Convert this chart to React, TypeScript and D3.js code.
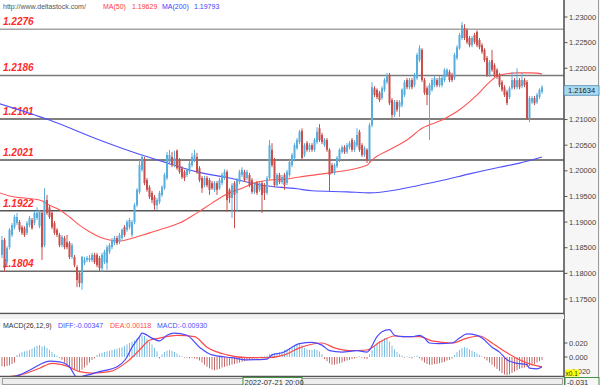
import React from "react";
import * as d3 from "d3";

const W = 600;
const H = 385;

// [open, high, low, close]
const ohlc: [number, number, number, number][] = [
  [1.1836,1.1873,1.1830,1.1865],[1.1865,1.1869,1.1803,1.1810],[1.1822,1.1853,1.1816,1.1849],[1.1851,1.1888,1.1847,1.1885],
  [1.1875,1.1898,1.1871,1.1894],[1.1890,1.1914,1.1886,1.1910],[1.1898,1.1918,1.1894,1.1910],[1.1900,1.1904,1.1881,1.1885],
  [1.1890,1.1894,1.1875,1.1879],[1.1888,1.1892,1.1871,1.1875],[1.1879,1.1902,1.1875,1.1898],[1.1894,1.1912,1.1890,1.1908],
  [1.1904,1.1908,1.1885,1.1888],[1.1898,1.1922,1.1894,1.1918],[1.1908,1.1929,1.1904,1.1918],[1.1892,1.1924,1.1888,1.1920],
  [1.1918,1.1922,1.1826,1.1851],[1.1855,1.1966,1.1851,1.1943],[1.1943,1.1953,1.1914,1.1918],[1.1929,1.1933,1.1906,1.1910],
  [1.1918,1.1922,1.1886,1.1890],[1.1898,1.1902,1.1875,1.1879],[1.1885,1.1888,1.1871,1.1875],[1.1875,1.1879,1.1851,1.1855],
  [1.1855,1.1875,1.1851,1.1871],[1.1869,1.1873,1.1847,1.1851],[1.1861,1.1875,1.1847,1.1851],[1.1859,1.1863,1.1828,1.1832],
  [1.1832,1.1859,1.1828,1.1855],[1.1832,1.1836,1.1812,1.1816],[1.1812,1.1816,1.1773,1.1787],[1.1801,1.1805,1.1773,1.1781],
  [1.1781,1.1834,1.1768,1.1832],[1.1820,1.1832,1.1816,1.1826],[1.1826,1.1834,1.1822,1.1830],[1.1826,1.1836,1.1822,1.1830],
  [1.1826,1.1840,1.1822,1.1836],[1.1836,1.1840,1.1818,1.1822],[1.1836,1.1840,1.1812,1.1816],[1.1830,1.1834,1.1803,1.1810],
  [1.1810,1.1840,1.1803,1.1836],[1.1822,1.1846,1.1818,1.1842],[1.1820,1.1855,1.1807,1.1851],[1.1842,1.1859,1.1838,1.1855],
  [1.1851,1.1869,1.1847,1.1865],[1.1859,1.1873,1.1855,1.1869],[1.1869,1.1873,1.1855,1.1859],[1.1861,1.1879,1.1857,1.1875],
  [1.1869,1.1888,1.1865,1.1885],[1.1890,1.1894,1.1871,1.1875],[1.1885,1.1904,1.1881,1.1900],[1.1890,1.1908,1.1886,1.1904],
  [1.1875,1.1904,1.1871,1.1900],[1.1900,1.1937,1.1896,1.1933],[1.1933,1.1966,1.1929,1.1963],[1.1959,1.2021,1.1955,1.2011],
  [1.2002,1.2033,1.1998,1.2027],[1.2021,1.2027,1.1972,1.1976],[1.1982,1.1986,1.1959,1.1963],[1.1968,1.1972,1.1945,1.1949],
  [1.1957,1.1961,1.1937,1.1943],[1.1949,1.1953,1.1924,1.1933],[1.1933,1.1947,1.1924,1.1943],[1.1939,1.1961,1.1935,1.1957],
  [1.1953,1.1972,1.1949,1.1968],[1.1966,1.1996,1.1963,1.1992],[1.1986,1.2037,1.1982,1.2031],[1.2017,1.2041,1.2013,1.2031],
  [1.2027,1.2037,1.2007,1.2011],[1.2011,1.2039,1.2007,1.2025],[1.2039,1.2042,1.2002,1.2005],[1.2021,1.2025,1.1994,1.1998],
  [1.2005,1.2009,1.1984,1.1988],[1.1998,1.2002,1.1980,1.1986],[1.1992,1.2005,1.1988,1.2002],[1.1998,1.2019,1.1994,1.2015],
  [1.2011,1.2035,1.2007,1.2027],[1.2021,1.2041,1.2017,1.2031],[1.2027,1.2035,1.1994,1.1998],[1.2005,1.2009,1.1978,1.1982],
  [1.1986,1.1990,1.1957,1.1966],[1.1972,1.1990,1.1968,1.1986],[1.1986,1.1990,1.1968,1.1972],[1.1982,1.1986,1.1953,1.1963],
  [1.1976,1.1980,1.1963,1.1966],[1.1963,1.1980,1.1959,1.1976],[1.1976,1.1980,1.1953,1.1963],[1.1966,1.1986,1.1963,1.1982],
  [1.1976,1.1996,1.1972,1.1992],[1.1986,1.2003,1.1982,1.1998],[1.1998,1.2002,1.1920,1.1943],[1.1963,1.1966,1.1937,1.1947],
  [1.1947,1.1976,1.1908,1.1972],[1.1976,1.1980,1.1888,1.1953],[1.1957,1.1986,1.1920,1.1982],[1.1978,1.2002,1.1974,1.1998],
  [1.1992,1.2007,1.1988,1.2002],[1.1998,1.2002,1.1978,1.1982],[1.1986,1.2002,1.1982,1.1998],[1.1992,1.1996,1.1968,1.1972],
  [1.1982,1.1986,1.1955,1.1959],[1.1959,1.1976,1.1955,1.1972],[1.1976,1.1980,1.1953,1.1957],[1.1963,1.1980,1.1959,1.1976],
  [1.1976,1.1980,1.1918,1.1953],[1.1972,1.1976,1.1943,1.1957],[1.1957,1.1990,1.1953,1.1986],[1.1986,1.2060,1.1982,1.2050],
  [1.2041,1.2054,1.2007,1.2011],[1.2021,1.2025,1.1968,1.1972],[1.1972,1.1996,1.1968,1.1992],[1.1992,1.1996,1.1974,1.1978],
  [1.1978,1.1992,1.1974,1.1988],[1.1992,1.1996,1.1963,1.1972],[1.1976,1.2002,1.1972,1.1998],[1.1992,1.2021,1.1988,1.2017],
  [1.2011,1.2035,1.2007,1.2031],[1.2025,1.2054,1.2021,1.2050],[1.2044,1.2064,1.2041,1.2060],[1.2056,1.2080,1.2052,1.2076],
  [1.2078,1.2083,1.2021,1.2025],[1.2031,1.2054,1.2027,1.2050],[1.2054,1.2058,1.2037,1.2041],[1.2041,1.2054,1.2037,1.2050],
  [1.2050,1.2054,1.2037,1.2041],[1.2041,1.2064,1.2037,1.2060],[1.2056,1.2085,1.2052,1.2076],[1.2083,1.2091,1.2056,1.2060],
  [1.2070,1.2074,1.2052,1.2056],[1.2050,1.2064,1.2046,1.2060],[1.2060,1.2064,1.2037,1.2041],[1.2041,1.2044,1.1959,1.1992],
  [1.2011,1.2015,1.1994,1.1998],[1.1996,1.2015,1.1992,1.2011],[1.2009,1.2029,1.2005,1.2025],[1.2021,1.2044,1.2017,1.2041],
  [1.2037,1.2050,1.2033,1.2046],[1.2046,1.2050,1.2033,1.2037],[1.2037,1.2054,1.2033,1.2050],[1.2046,1.2058,1.2042,1.2054],
  [1.2060,1.2064,1.2037,1.2041],[1.2041,1.2060,1.2037,1.2056],[1.2050,1.2083,1.2046,1.2070],[1.2076,1.2080,1.2037,1.2041],
  [1.2050,1.2054,1.2027,1.2031],[1.2031,1.2048,1.2027,1.2044],[1.2041,1.2044,1.2015,1.2021],[1.2021,1.2093,1.2017,1.2089],
  [1.2089,1.2173,1.2085,1.2163],[1.2161,1.2165,1.2144,1.2148],[1.2158,1.2161,1.2140,1.2144],[1.2152,1.2156,1.2134,1.2138],
  [1.2142,1.2165,1.2138,1.2161],[1.2158,1.2181,1.2154,1.2177],[1.2173,1.2191,1.2169,1.2187],[1.2187,1.2191,1.2128,1.2132],
  [1.2138,1.2142,1.2103,1.2109],[1.2109,1.2138,1.2105,1.2134],[1.2134,1.2138,1.2115,1.2119],[1.2124,1.2138,1.2105,1.2134],
  [1.2128,1.2161,1.2124,1.2158],[1.2148,1.2177,1.2144,1.2173],[1.2177,1.2181,1.2159,1.2163],[1.2163,1.2181,1.2159,1.2177],
  [1.2177,1.2181,1.2159,1.2163],[1.2167,1.2191,1.2163,1.2187],[1.2181,1.2230,1.2177,1.2226],[1.2216,1.2245,1.2212,1.2239],
  [1.2236,1.2239,1.2173,1.2177],[1.2177,1.2181,1.2148,1.2152],[1.2161,1.2165,1.2128,1.2148],[1.2148,1.2171,1.2060,1.2167],
  [1.2158,1.2181,1.2154,1.2177],[1.2167,1.2185,1.2163,1.2181],[1.2177,1.2181,1.2163,1.2167],[1.2167,1.2185,1.2163,1.2181],
  [1.2167,1.2185,1.2163,1.2181],[1.2177,1.2200,1.2173,1.2197],[1.2187,1.2200,1.2183,1.2197],[1.2193,1.2197,1.2173,1.2177],
  [1.2187,1.2191,1.2173,1.2177],[1.2181,1.2230,1.2177,1.2226],[1.2220,1.2245,1.2216,1.2241],[1.2239,1.2269,1.2236,1.2265],
  [1.2259,1.2290,1.2255,1.2284],[1.2278,1.2286,1.2255,1.2259],[1.2274,1.2278,1.2247,1.2251],[1.2259,1.2263,1.2241,1.2245],
  [1.2245,1.2263,1.2241,1.2259],[1.2265,1.2269,1.2247,1.2251],[1.2271,1.2274,1.2241,1.2245],[1.2255,1.2259,1.2237,1.2241],
  [1.2245,1.2249,1.2228,1.2232],[1.2236,1.2239,1.2212,1.2216],[1.2220,1.2224,1.2183,1.2187],[1.2187,1.2216,1.2183,1.2212],
  [1.2216,1.2236,1.2193,1.2197],[1.2206,1.2210,1.2183,1.2187],[1.2197,1.2200,1.2179,1.2183],[1.2187,1.2191,1.2163,1.2167],
  [1.2173,1.2177,1.2154,1.2158],[1.2163,1.2167,1.2144,1.2148],[1.2154,1.2158,1.2128,1.2132],[1.2144,1.2165,1.2140,1.2161],
  [1.2161,1.2193,1.2158,1.2177],[1.2177,1.2181,1.2159,1.2163],[1.2163,1.2200,1.2159,1.2177],[1.2177,1.2181,1.2159,1.2163],
  [1.2165,1.2191,1.2161,1.2177],[1.2177,1.2181,1.2163,1.2167],[1.2173,1.2177,1.2099,1.2103],[1.2103,1.2146,1.2095,1.2142],
  [1.2134,1.2146,1.2130,1.2142],[1.2142,1.2146,1.2128,1.2132],[1.2134,1.2152,1.2130,1.2148],[1.2144,1.2161,1.2140,1.2158],
  [1.2154,1.2167,1.2150,1.2163],
];

// [bar index, value]
const ma50Pts: [number, number][] = [
  [-1,1.1957],[3,1.1951],[15,1.1943],[19,1.1933],[23,1.1924],[27,1.1910],[31,1.1894],[35,1.1881],[39,1.1871],
  [43,1.1865],[47,1.1863],[51,1.1867],[59,1.1879],[65,1.1888],[71,1.1898],[78,1.1918],[84,1.1937],[91,1.1957],
  [96,1.1966],[102,1.1978],[107,1.1982],[114,1.1984],[119,1.1988],[131,1.1996],[146,1.2011],[148,1.2021],
  [155,1.2041],[162,1.2060],[168,1.2083],[176,1.2099],[183,1.2119],[190,1.2148],[195,1.2173],[199,1.2187],
  [206,1.2191],[212,1.2191],[216,1.2189],
];
const ma200Pts: [number, number][] = [
  [-1,1.2131],[19,1.2099],[39,1.2060],[52,1.2037],[65,1.2017],[78,1.1998],[91,1.1986],[104,1.1972],[118,1.1965],
  [124,1.1961],[138,1.1959],[147,1.1957],[158,1.1963],[167,1.1972],[175,1.1980],[187,1.1994],[199,1.2007],
  [207,1.2015],[216,1.2027],
];

const levels = [1.2276, 1.2186, 1.2101, 1.2021, 1.1922, 1.1804];
const priceTicks = [1.23, 1.225, 1.22, 1.215, 1.21, 1.205, 1.2, 1.195, 1.19, 1.185, 1.18, 1.175];
const lastPrice = "1.21634";

const macdHist = [
  -0.013,-0.014,-0.013,-0.012,-0.010,-0.008,0.003,
  0.005,0.007,0.008,0.009,0.010,0.012,0.014,0.016,0.017,0.015,0.016,0.013,0.010,0.007,0.004,0.002,
  -0.001,-0.004,-0.008,-0.011,-0.014,-0.016,-0.018,-0.020,-0.020,-0.018,-0.015,-0.012,
  -0.008,-0.004,-0.002,
  0.003,0.005,0.006,0.007,0.008,0.009,0.010,0.011,0.012,0.013,
  0.014,0.016,0.018,0.020,0.022,0.024,0.027,0.029,0.031,0.030,
  0.026,0.022,0.018,0.013,0.008,
  -0.002,
  0.004,0.007,0.009,0.010,0.009,0.007,0.005,
  0.002,0.001,-0.001,
  -0.001,-0.002,-0.001,-0.002,-0.003,-0.005,
  -0.008,-0.011,-0.014,-0.016,-0.018,-0.019,-0.018,-0.017,-0.015,-0.014,-0.013,
  -0.012,-0.011,-0.010,-0.009,-0.008,-0.007,-0.006,-0.005,
  -0.004,-0.003,-0.002,-0.002,-0.001,0.001,0.001,0.002,
  0.004,0.005,0.005,0.006,
  0.007,0.008,0.010,0.011,0.013,0.014,
  0.016,0.018,0.019,0.017,0.013,0.011,0.010,0.010,0.011,0.010,0.008,0.004,
  -0.003,-0.006,-0.009,-0.011,-0.011,-0.010,-0.009,-0.008,-0.006,-0.005,-0.004,-0.003,
  -0.002,-0.001,0.001,-0.001,-0.002,-0.003,
  0.004,0.010,0.016,0.020,0.023,0.025,0.027,0.026,0.022,
  0.016,0.011,0.007,0.004,
  0.002,-0.001,0.001,-0.001,-0.002,0.001,0.002,
  -0.002,-0.005,-0.008,-0.010,-0.011,-0.011,-0.010,-0.010,-0.009,-0.008,-0.007,-0.005,-0.004,-0.002,
  0.003,0.007,0.010,0.013,0.014,0.013,0.011,0.009,0.007,0.005,0.003,
  0.001,-0.002,
  -0.005,-0.008,-0.011,-0.014,-0.017,-0.020,-0.023,-0.025,-0.026,-0.025,-0.023,-0.021,-0.019,
  -0.017,-0.016,-0.015,-0.014,-0.013,-0.012,-0.010,-0.008,-0.006,-0.004,
];

const diffPts: [number, number][] = [
  [-1,-0.032],[6,-0.027],[11,-0.019],[15,-0.011],[19,-0.006],[23,-0.007],[27,-0.014],[30,-0.029],[34,-0.026],
  [39,-0.021],[46,-0.014],[50,0.000],[52,0.014],[55,0.029],[56,0.034],[60,0.027],[63,0.023],[66,0.031],[69,0.034],
  [74,0.031],[79,0.014],[84,0.003],[92,-0.001],[98,-0.004],[106,-0.003],[108,0.003],[112,0.006],[119,0.019],
  [124,0.021],[128,0.017],[131,0.009],[136,0.007],[142,0.009],[146,0.007],[147,0.010],[150,0.029],[152,0.036],
  [155,0.039],[157,0.031],[160,0.029],[164,0.029],[167,0.031],[169,0.027],[171,0.020],[175,0.019],[180,0.020],
  [183,0.027],[186,0.033],[190,0.031],[192,0.027],[196,0.014],[199,0.007],[202,-0.004],[206,-0.009],[210,-0.011],
  [211,-0.016],[214,-0.017],[216,-0.014],
];
const deaPts: [number, number][] = [
  [-1,-0.029],[7,-0.026],[15,-0.016],[20,-0.009],[26,-0.013],[31,-0.021],[36,-0.023],[43,-0.021],[50,-0.007],
  [55,0.010],[59,0.024],[63,0.027],[70,0.031],[77,0.029],[82,0.014],[90,0.003],[98,-0.001],[106,-0.001],
  [113,0.003],[119,0.013],[128,0.020],[133,0.013],[139,0.009],[146,0.010],[151,0.021],[157,0.030],[162,0.029],
  [167,0.029],[172,0.023],[180,0.020],[186,0.027],[191,0.030],[196,0.020],[202,0.006],[207,-0.004],[212,-0.011],
  [216,-0.014],
];
const macdTicks = [0.02, 0, -0.02];

const FONT = "'Liberation Sans', Arial, sans-serif";
const BULL = "#5aaedd";
const BEAR = "#c84f4c";

export default function App() {
  const x = d3.scaleLinear().domain([0, ohlc.length - 1]).range([2, 542]);
  const y = d3.scaleLinear().domain([1.175, 1.23]).range([299, 17]);
  const ym = d3.scaleLinear().domain([-0.02, 0.02]).range([371, 343]);

  const priceLine = d3
    .line<[number, number]>()
    .x((d) => x(d[0]))
    .y((d) => y(d[1]))
    .curve(d3.curveMonotoneX);
  const macdLine = d3
    .line<[number, number]>()
    .x((d) => x(d[0]))
    .y((d) => ym(d[1]))
    .curve(d3.curveMonotoneX);

  const levelColor = ["#a4a4a4", "#7a7a7a", "#555", "#555", "#555", "#6a6a6a"];
  const lastY = y(ohlc[ohlc.length - 1][3]);
  const boxTop = lastY - 1.5;
  const boxBot = lastY + 8;

  return (
    <svg
      width={W}
      height={H}
      style={{ position: "fixed", left: 0, top: 0, background: "#fff" }}
      fontFamily={FONT}
    >
      <defs>
        <clipPath id="mainClip">
          <rect x={0} y={0} width={564} height={313} />
        </clipPath>
        <clipPath id="macdClip">
          <rect x={0} y={319} width={564} height={57} />
        </clipPath>
      </defs>
      <rect x={0} y={0} width={W} height={H} fill="#fff" />

      {/* level lines */}
      {levels.map((lv, k) => (
        <line key={"lv" + k} x1={0} x2={564} y1={y(lv)} y2={y(lv)} stroke={levelColor[k]} strokeWidth={1.6} />
      ))}
      {levels.map((lv, k) => (
        <text key={"lt" + k} x={3} y={y(lv) - 4} fontSize={10} fontWeight="bold" fontStyle="italic" fill="#ff2a2a">
          {lv.toFixed(4)}
        </text>
      ))}

      <g clipPath="url(#mainClip)">
        {/* MA lines */}
        <path d={priceLine(ma200Pts) || ""} fill="none" stroke="#5050ff" strokeWidth={1.1} />
        <path d={priceLine(ma50Pts) || ""} fill="none" stroke="#ff5555" strokeWidth={1.1} />
        {/* candles */}
        {ohlc.map((d, i) => {
          const [o, h, l, c] = d;
          const col = c >= o ? BULL : BEAR;
          const top = y(Math.max(o, c));
          const bot = y(Math.min(o, c));
          return (
            <g key={"c" + i}>
              <line x1={x(i)} x2={x(i)} y1={y(h)} y2={y(l)} stroke={col} strokeWidth={1} />
              <rect x={x(i) - 1} y={top} width={2} height={Math.max(1, bot - top)} fill={col} />
            </g>
          );
        })}
      </g>

      {/* header */}
      <text x={3} y={9} fontSize={7} fill="#555">http://www.deltastock.com/</text>
      <text x={103} y={9} fontSize={7} fill="#ff3a3a">MA(50)</text>
      <text x={132} y={9} fontSize={7} fill="#ff3a3a">1.19629</text>
      <text x={162} y={9} fontSize={7} fill="#4040ff">MA(200)</text>
      <text x={194} y={9} fontSize={7} fill="#4040ff">1.19793</text>

      {/* right axis panel */}
      <rect x={564} y={0} width={36} height={H} fill="#f6f6f6" />
      <line x1={564} x2={564} y1={0} y2={H} stroke="#555" strokeWidth={1.6} />
      <line x1={598.5} x2={598.5} y1={0} y2={H} stroke="#9a9a9a" strokeWidth={1} />
      {priceTicks.map((t, k) => {
        const ty = y(t);
        const hidden = ty > boxTop - 2 && ty < boxBot + 2;
        return (
          <g key={"pt" + k}>
            <line x1={564} x2={567.5} y1={ty} y2={ty} stroke="#555" strokeWidth={1} />
            {!hidden && (
              <text x={569} y={ty + 2.6} fontSize={7.5} fill="#444">{t.toFixed(5)}</text>
            )}
          </g>
        );
      })}
      <rect x={564} y={boxTop} width={35} height={boxBot - boxTop} fill="#a9d9f1" stroke="#4a86b0" strokeWidth={0.8} />
      <text x={568} y={lastY + 5.8} fontSize={7.5} fill="#222">{lastPrice}</text>

      {/* panel separator */}
      <line x1={0} x2={564} y1={313.5} y2={313.5} stroke="#555" strokeWidth={1.6} />
      <rect x={0} y={314.5} width={564} height={4.5} fill="#f2f2f2" />

      {/* MACD panel */}
      <g clipPath="url(#macdClip)">
        {macdHist.map((v, i) => (
          <line
            key={"h" + i}
            x1={x(i)}
            x2={x(i)}
            y1={ym(0)}
            y2={ym(v)}
            stroke={v >= 0 ? "#79bde3" : "#c46a68"}
            strokeWidth={1}
          />
        ))}
        <path d={macdLine(deaPts) || ""} fill="none" stroke="#ff4a4a" strokeWidth={1.2} />
        <path d={macdLine(diffPts) || ""} fill="none" stroke="#4a4aff" strokeWidth={1.2} />
      </g>
      <text x={3} y={327.5} fontSize={7} fill="#333">MACD(26,12,9)</text>
      <text x={58} y={327.5} fontSize={7} fill="#4a4aff">DIFF:-0.00347</text>
      <text x={110} y={327.5} fontSize={7} fill="#ff4a4a">DEA:0.00118</text>
      <text x={157} y={327.5} fontSize={7} fill="#4a4aff">MACD:-0.00930</text>

      {macdTicks.map((t, k) => (
        <g key={"mt" + k}>
          <line x1={564} x2={567.5} y1={ym(t)} y2={ym(t)} stroke="#555" strokeWidth={1} />
          <text x={569} y={ym(t) + 2.6} fontSize={7.5} fill="#444">{t.toFixed(3)}</text>
        </g>
      ))}
      <rect x={565} y={369.5} width={14} height={7} fill="#ffff00" />
      <text x={565.5} y={375.5} fontSize={6.5} fill="#333">x0.1</text>

      {/* bottom time strip */}
      <line x1={0} x2={564} y1={376.5} y2={376.5} stroke="#555" strokeWidth={1.4} />
      <rect x={0} y={377.5} width={564} height={7.5} fill="#eeeeee" />
      <rect x={2.5} y={378.5} width={560} height={6} fill="none" stroke="#8a8a8a" strokeWidth={0.8} />
      <rect x={243} y={377.5} width={59} height={8} fill="#f6f6f6" stroke="#2f8a2f" strokeWidth={0.9} />
      <text x={244.5} y={384.5} fontSize={7.5} fill="#333">2022-07-21 20:00</text>
      <rect x={565} y={377.5} width={34} height={8} fill="#f6f6f6" stroke="#2f8a2f" strokeWidth={0.9} />
      <text x={567} y={384.5} fontSize={7.5} fill="#333">-0.031</text>
    </svg>
  );
}
